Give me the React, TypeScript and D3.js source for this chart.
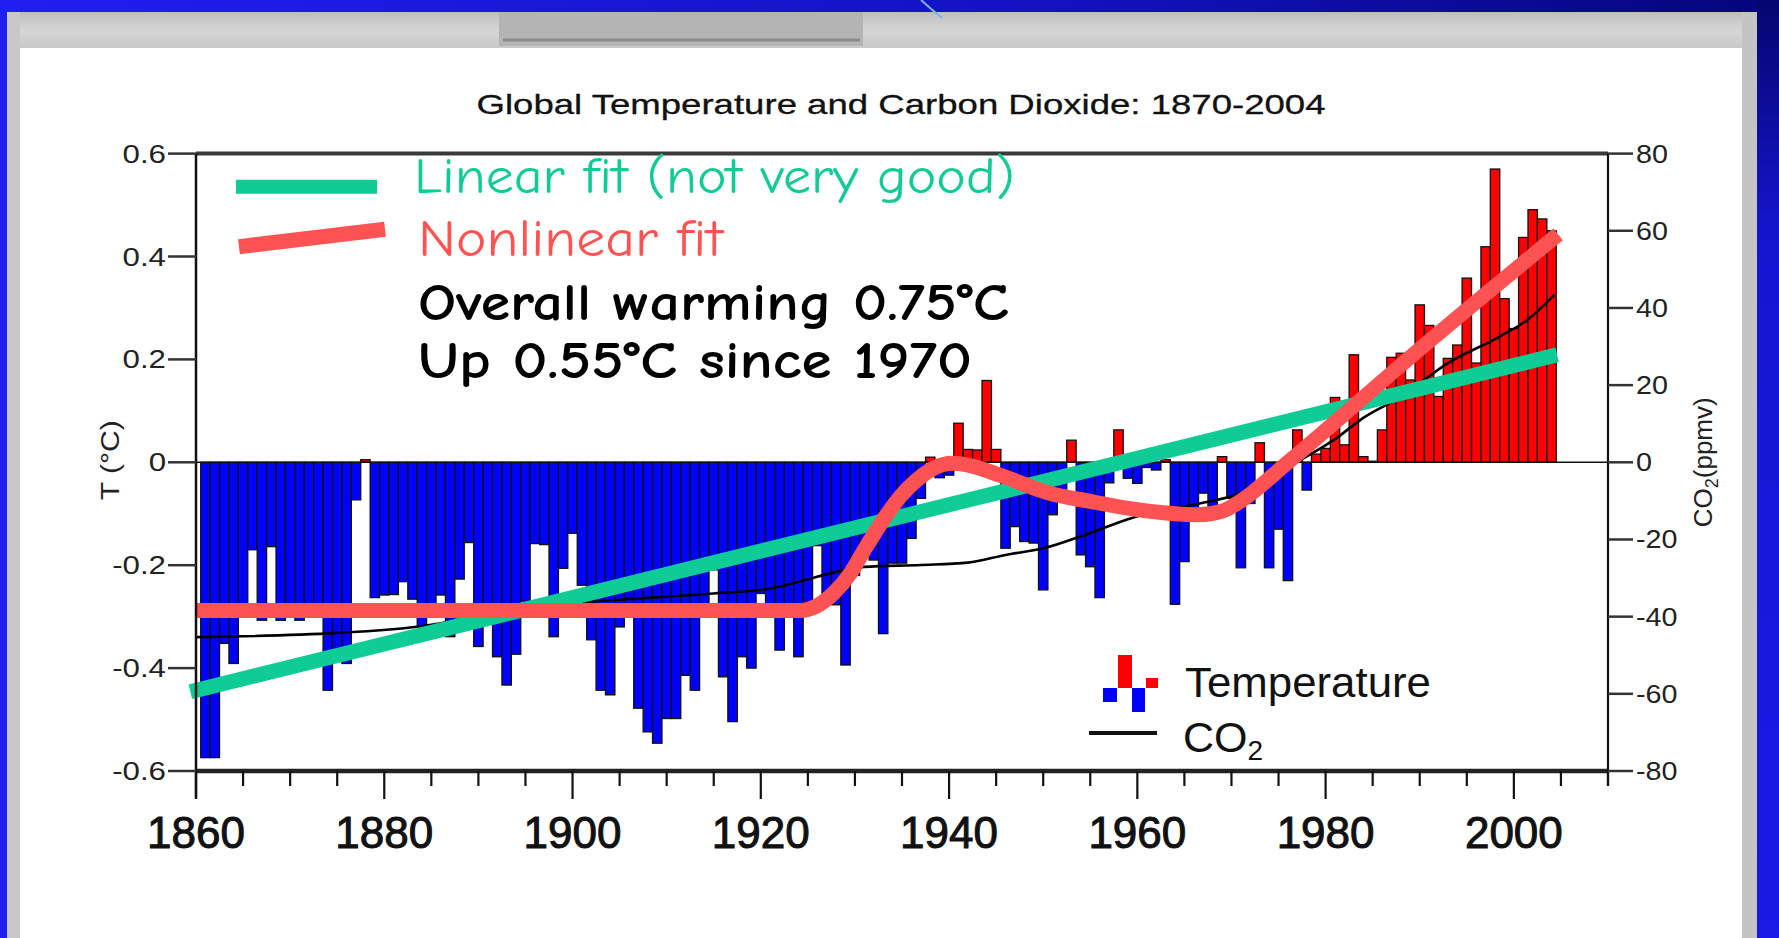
import React from "react";
import * as d3 from "d3";

// Annual global temperature anomalies (°C), 1861–2004
const firstYear = 1861;
const tempAnomaly = [
  -0.574, -0.574, -0.352, -0.391, -0.29, -0.17, -0.307, -0.164, -0.307, -0.285,
  -0.307, -0.28, -0.28, -0.443, -0.38, -0.391, -0.073, 0.005, -0.263, -0.258,
  -0.257, -0.232, -0.266, -0.32, -0.3, -0.258, -0.339, -0.227, -0.156, -0.358,
  -0.31, -0.378, -0.433, -0.373, -0.27, -0.158, -0.16, -0.339, -0.206, -0.138,
  -0.239, -0.345, -0.443, -0.452, -0.32, -0.3, -0.478, -0.524, -0.546, -0.498,
  -0.498, -0.414, -0.443, -0.3, -0.209, -0.417, -0.504, -0.378, -0.4, -0.255,
  -0.29, -0.365, -0.285, -0.378, -0.28, -0.162, -0.27, -0.277, -0.394, -0.22,
  -0.18, -0.19, -0.333, -0.196, -0.196, -0.148, -0.07, 0.01, -0.03, -0.025,
  0.076, 0.025, 0.024, 0.159, 0.025, -0.167, -0.125, -0.154, -0.157, -0.248,
  -0.102, -0.06, 0.043, -0.18, -0.203, -0.263, -0.04, 0.063, -0.031, -0.041,
  -0.01, -0.015, 0.005, -0.276, -0.193, -0.09, -0.06, -0.11, 0.011, -0.07,
  -0.205, -0.08, 0.038, -0.205, -0.13, -0.23, 0.063, -0.054, 0.016, 0.027,
  0.126, 0.034, 0.209, 0.011, 0.002, 0.063, 0.204, 0.212, 0.16, 0.306,
  0.266, 0.128, 0.202, 0.228, 0.358, 0.193, 0.419, 0.57, 0.318, 0.26,
  0.437, 0.491, 0.473, 0.45,
];
const tempYears = d3.range(firstYear, firstYear + tempAnomaly.length);

// CO2 concentration relative to the reference level (ppmv)
const co2Years = [1860, 1875, 1886, 1890, 1900, 1905, 1915, 1921, 1924, 1928, 1931, 1937, 1942, 1946, 1950, 1955, 1960, 1966, 1971, 1977.5, 1981, 1984, 1988, 1993, 1998.5, 2001.5, 2004.3];
const co2Values = [-45.3, -44.2, -41.7, -39.5, -36.5, -35.6, -34, -32.7, -31, -28.4, -27.1, -26.6, -26, -24, -22.3, -18.3, -14, -11, -8, 0.8, 6, 11.5, 17, 25.7, 32.6, 37, 43.4];

// Straight-line fit through the temperature record
const linearYears = [1859.4, 2004.6];
const linearValues = [-0.446, 0.209];

// Smooth nonlinear fit
const nonlinearYears = [1859.9, 1924.2, 1927.7, 1929.5, 1931.2, 1933.0, 1934.8, 1936.6, 1938.3, 1940.4, 1941.9, 1945.4, 1950.7, 1955, 1960, 1966.5, 1969, 1971, 1976, 1990, 2004.7];
const nonlinearValues = [-0.288, -0.288, -0.255, -0.216, -0.164, -0.112, -0.067, -0.034, -0.012, -0.002, -0.005, -0.025, -0.06, -0.076, -0.092, -0.102, -0.095, -0.075, 0.0, 0.22, 0.443];

// Axis ticks
const tempTicks = [0.6, 0.4, 0.2, 0, -0.2, -0.4, -0.6];
const tempTickLabels = ["0.6", "0.4", "0.2", "0", "-0.2", "-0.4", "-0.6"];
const co2Ticks = [80, 60, 40, 20, 0, -20, -40, -60, -80];
const co2TickLabels = ["80", "60", "40", "20", "0", "-20", "-40", "-60", "-80"];
const yearMajorTicks = [1860, 1880, 1900, 1920, 1940, 1960, 1980, 2000];
const yearLabels = ["1860", "1880", "1900", "1920", "1940", "1960", "1980", "2000"];

const W = 1779;
const H = 938;
const PLOT = { left: 196, right: 1608, top: 153.6, bottom: 771 };

const SANS = "'Liberation Sans', Arial, Helvetica, sans-serif";
const HAND = "'Comic Sans MS', 'Comic Neue', 'DejaVu Sans', sans-serif";
const TEAL = "#0fcb96";
const SALMON = "#ff5252";

// Approximate advance width (in em) of a numeric label in Liberation Sans
function numericWidthEm(s: string): number {
  let w = 0;
  for (const ch of s) {
    if (ch === ".") w += 0.278;
    else if (ch === "-") w += 0.333;
    else w += 0.556;
  }
  return w;
}

export default function App() {
  const x = d3.scaleLinear().domain([1860, 2010]).range([PLOT.left, PLOT.right]);
  const y = d3.scaleLinear().domain([-0.6, 0.6]).range([PLOT.bottom, PLOT.top]);
  const yCo2 = d3.scaleLinear().domain([-80, 80]).range([PLOT.bottom, PLOT.top]);

  const minorTicks = d3.range(1860, 2011, 5);

  const co2Line = d3
    .line<number>()
    .x((_, i) => x(co2Years[i]))
    .y((v) => yCo2(v))
    .curve(d3.curveMonotoneX)(co2Values);

  const linearLine = d3
    .line<number>()
    .x((_, i) => x(linearYears[i]))
    .y((v) => y(v))(linearValues);

  const nonlinearLine = d3
    .line<number>()
    .x((_, i) => x(nonlinearYears[i]))
    .y((v) => y(v))
    .curve(d3.curveMonotoneX)(nonlinearValues);

  const tickFont = 25;

  return (
    <svg
      width={W}
      height={H}
      style={{ position: "absolute", left: 0, top: 0, display: "block" }}
    >
      <defs>
        <linearGradient id="frameBlue" x1="0" y1="0" x2="1" y2="0">
          <stop offset="0" stopColor="#1f1ff2" />
          <stop offset="0.6" stopColor="#1212c0" />
          <stop offset="1" stopColor="#05057a" />
        </linearGradient>
        <linearGradient id="rightBlue" x1="0" y1="0" x2="0" y2="1">
          <stop offset="0" stopColor="#06066e" />
          <stop offset="0.25" stopColor="#1515d0" />
          <stop offset="1" stopColor="#1a1ae8" />
        </linearGradient>
        <linearGradient id="stoneBand" x1="0" y1="0" x2="0" y2="1">
          <stop offset="0" stopColor="#bdbdbd" />
          <stop offset="0.5" stopColor="#d6d6d6" />
          <stop offset="1" stopColor="#c9c9c9" />
        </linearGradient>
      </defs>

      {/* slide frame */}
      <rect x={0} y={0} width={W} height={H} fill="url(#frameBlue)" />
      <rect x={1757} y={0} width={22} height={H} fill="url(#rightBlue)" />
      <rect x={7} y={12} width={1750} height={36} fill="url(#stoneBand)" />
      <rect x={499} y={12} width={364} height={34} fill="#b4b4b4" />
      <line x1={503} y1={40} x2={860} y2={40} stroke="#8a8a8a" strokeWidth={3} />
      <rect x={7} y={12} width={13} height={H - 12} fill="#c8c8c8" />
      <rect x={1742} y={12} width={15} height={H - 12} fill="#c4c4c4" />
      <rect x={20} y={48} width={1722} height={H - 48} fill="#ffffff" />
      <path d="M921,0 Q932,10 942,18" stroke="#7fb0ff" strokeWidth={2} fill="none" />

      {/* title */}
      <text
        x={901}
        y={114}
        textAnchor="middle"
        fontFamily={SANS}
        fontSize={28}
        fill="#111"
        stroke="#111"
        strokeWidth={0.3}
        textLength={849}
        lengthAdjust="spacingAndGlyphs"
      >
        Global Temperature and Carbon Dioxide: 1870-2004
      </text>

      {/* temperature bars */}
      <g>
        {tempAnomaly.map((v, i) => {
          const yr = tempYears[i];
          const x0 = x(yr - 0.5);
          const x1 = x(yr + 0.5);
          const top = y(Math.max(v, 0));
          const h = Math.abs(y(v) - y(0));
          return (
            <rect
              key={yr}
              x={x0}
              y={top}
              width={x1 - x0}
              height={h}
              fill={v >= 0 ? "#ff0000" : "#0000ff"}
              stroke="#111"
              strokeWidth={1.3}
            />
          );
        })}
      </g>

      {/* zero line */}
      <line x1={PLOT.left} x2={PLOT.right} y1={y(0)} y2={y(0)} stroke="#111" strokeWidth={1.5} />

      {/* CO2 curve */}
      <path d={co2Line || ""} fill="none" stroke="#000" strokeWidth={2.6} />

      {/* fits */}
      <path d={linearLine || ""} fill="none" stroke={TEAL} strokeWidth={15} />
      <path d={nonlinearLine || ""} fill="none" stroke={SALMON} strokeWidth={15} strokeLinejoin="round" />

      {/* frame */}
      <line x1={PLOT.left} x2={PLOT.right} y1={PLOT.top} y2={PLOT.top} stroke="#3a3a3a" strokeWidth={4} />
      <line x1={PLOT.left - 1} x2={PLOT.right + 1} y1={PLOT.bottom} y2={PLOT.bottom} stroke="#222" strokeWidth={4.5} />
      <line x1={PLOT.left} x2={PLOT.left} y1={PLOT.top} y2={PLOT.bottom + 27} stroke="#111" strokeWidth={2.5} />
      <line x1={PLOT.right} x2={PLOT.right} y1={PLOT.top} y2={PLOT.bottom + 15} stroke="#111" strokeWidth={2.2} />

      {/* x ticks */}
      {minorTicks.map((t) => {
        const major = yearMajorTicks.includes(t);
        return (
          <line
            key={t}
            x1={x(t)}
            x2={x(t)}
            y1={PLOT.bottom}
            y2={PLOT.bottom + (major ? 28 : 15)}
            stroke="#111"
            strokeWidth={2.2}
          />
        );
      })}
      {yearMajorTicks.map((t, i) => (
        <text
          key={t}
          x={x(t)}
          y={848}
          textAnchor="middle"
          fontFamily={SANS}
          fontSize={44}
          fill="#111"
          stroke="#111"
          strokeWidth={1}
        >
          {yearLabels[i]}
        </text>
      ))}

      {/* left axis */}
      {tempTicks.map((t, i) => (
        <g key={t}>
          <line x1={168} x2={PLOT.left} y1={y(t)} y2={y(t)} stroke="#333" strokeWidth={2.5} />
          <text
            x={166}
            y={y(t) + 9}
            textAnchor="end"
            fontFamily={SANS}
            fontSize={tickFont}
            fill="#222"
            textLength={numericWidthEm(tempTickLabels[i]) * tickFont * 1.25}
            lengthAdjust="spacingAndGlyphs"
          >
            {tempTickLabels[i]}
          </text>
        </g>
      ))}
      <text
        transform={`translate(119,${y(0) - 2}) rotate(-90)`}
        textAnchor="middle"
        fontFamily={SANS}
        fontSize={26}
        fill="#222"
        textLength={80}
        lengthAdjust="spacingAndGlyphs"
      >
        T (°C)
      </text>

      {/* right axis */}
      {co2Ticks.map((t, i) => (
        <g key={t}>
          <line x1={PLOT.right} x2={1633} y1={yCo2(t)} y2={yCo2(t)} stroke="#333" strokeWidth={2.5} />
          <text
            x={1636}
            y={yCo2(t) + 9}
            textAnchor="start"
            fontFamily={SANS}
            fontSize={tickFont}
            fill="#222"
            textLength={numericWidthEm(co2TickLabels[i]) * tickFont * 1.15}
            lengthAdjust="spacingAndGlyphs"
          >
            {co2TickLabels[i]}
          </text>
        </g>
      ))}
      <text
        transform={`translate(1712,${y(0)}) rotate(-90)`}
        textAnchor="middle"
        fontFamily={SANS}
        fontSize={26}
        fill="#222"
      >
        CO<tspan fontSize={18} dy={6}>2</tspan>
        <tspan dy={-6}>(ppmv)</tspan>
      </text>

      {/* data legend */}
      <g>
        <rect x={1103} y={688} width={14} height={14} fill="#0000ff" />
        <rect x={1118} y={655} width={14} height={33} fill="#ff0000" />
        <rect x={1132} y={688} width={13} height={24} fill="#0000ff" />
        <rect x={1146} y={678} width={12} height={10} fill="#ff0000" />
        <text x={1185} y={697} fontFamily={SANS} fontSize={43} fill="#111" textLength={246} lengthAdjust="spacingAndGlyphs">
          Temperature
        </text>
        <line x1={1089} x2={1157} y1={733} y2={733} stroke="#111" strokeWidth={4} />
        <text x={1183} y={752} fontFamily={SANS} fontSize={43} fill="#111">
          CO<tspan fontSize={28} dy={8}>2</tspan>
        </text>
      </g>

      {/* fit legend and notes */}
      <line x1={236} x2={377} y1={186.7} y2={186.7} stroke={TEAL} strokeWidth={14} />
      <line x1={239} x2={385} y1={246.7} y2={229.3} stroke={SALMON} strokeWidth={15} />
      <text x={414} y={193} fontFamily={HAND} fontSize={50} fill={TEAL} textLength={601} lengthAdjust="spacingAndGlyphs">
        Linear fit (not very good)
      </text>
      <text x={418} y={256} fontFamily={HAND} fontSize={52} fill={SALMON} textLength={305} lengthAdjust="spacingAndGlyphs">
        Nonlinear fit
      </text>
      <text x={418} y={320} fontFamily={HAND} fontSize={52} fontWeight="bold" fill="#000" textLength={591} lengthAdjust="spacingAndGlyphs">
        Overall warming 0.75°C
      </text>
      <text x={418} y={378} fontFamily={HAND} fontSize={52} fontWeight="bold" fill="#000" textLength={554} lengthAdjust="spacingAndGlyphs">
        Up 0.55°C since 1970
      </text>
    </svg>
  );
}
